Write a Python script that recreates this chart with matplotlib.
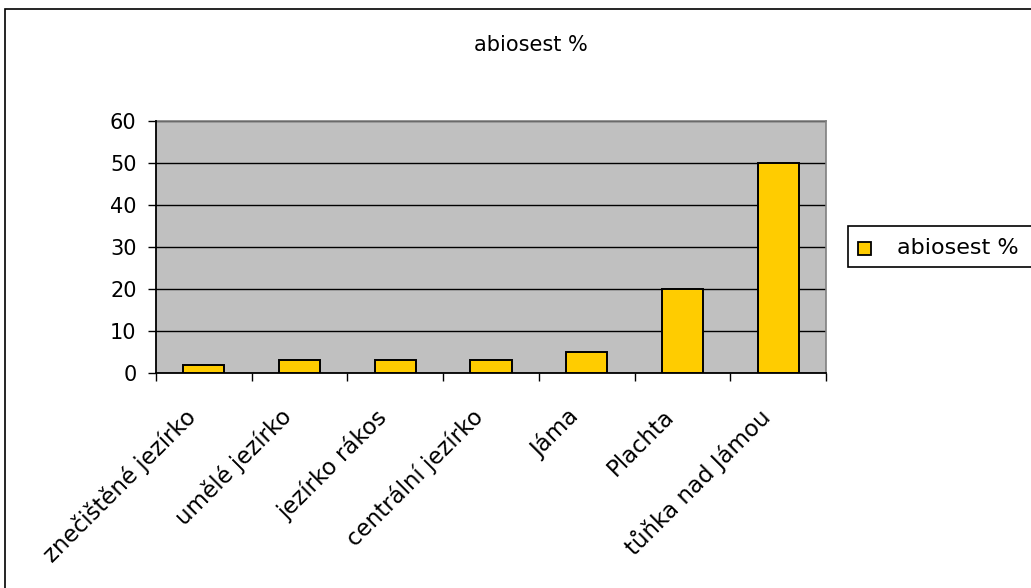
import matplotlib
matplotlib.use("Agg")
import matplotlib.pyplot as plt
from matplotlib.patches import Rectangle
from matplotlib.transforms import ScaledTranslation
import numpy as np

categories = ["znečištěné jezírko", "umělé jezírko", "jezírko rákos",
              "centrální jezírko", "Jáma", "Plachta", "tůňka nad Jámou"]
values = [2, 3, 3, 3, 5, 20, 50]
series_name = "abiosest %"
yticks = [0, 10, 20, 30, 40, 50, 60]

plt.rcParams['font.family'] = ['DejaVu Sans']

W, H = 1031, 588
fig = plt.figure(figsize=(W / 100, H / 100), dpi=100)
fig.patch.set_facecolor("white")


def px(x, y):
    """Pixel position (from top-left) to figure fraction."""
    return x / W, 1 - y / H


# outer frame of the chart (runs off the right and bottom edges)
fig.patches.append(Rectangle(px(5, 620), 1100 / W, (620 - 9) / H,
                             transform=fig.transFigure, fill=False,
                             edgecolor="black", linewidth=1.2))

left, top, right, bottom = 156, 121, 826, 373
ax = fig.add_axes([left / W, 1 - bottom / H, (right - left) / W, (bottom - top) / H])
ax.set_facecolor("#C0C0C0")

x = np.arange(len(categories))
bars_color = "#FFCC00"
ax.bar(x, values, width=0.43, color=bars_color, edgecolor="black",
       linewidth=1.4, zorder=3)

ax.set_xlim(-0.5, len(categories) - 0.5)
ax.set_ylim(0, 60)
ax.set_yticks(yticks)
ax.yaxis.grid(True, color="black", linewidth=1, zorder=1)
ax.set_axisbelow(True)

# category ticks sit between the bars
ax.set_xticks(np.arange(len(categories) + 1) - 0.5)
ax.set_xticklabels([])
ax.set_xticks(x, minor=True)
ax.set_xticklabels(categories, minor=True, rotation=45, ha="right",
                   va="top", rotation_mode="anchor", fontsize=16.5)
ax.tick_params(axis="x", which="minor", length=0, pad=23)
ax.tick_params(axis="x", which="major", length=6, width=1, direction="out")
ax.tick_params(axis="y", length=6, width=1, direction="out", labelsize=15, pad=8)
shift = ScaledTranslation(-20 / 100, 0, fig.dpi_scale_trans)
for lbl in ax.get_xticklabels(minor=True):
    lbl.set_transform(lbl.get_transform() + shift)

for side in ("top", "right"):
    ax.spines[side].set_color("#808080")
    ax.spines[side].set_linewidth(1.2)
    ax.spines[side].set_zorder(2)
for side in ("left", "bottom"):
    ax.spines[side].set_color("black")
    ax.spines[side].set_linewidth(1.3)

fig.text(*px(531, 45), series_name, ha="center", va="center", fontsize=15)

# legend: frame runs off the right edge
fig.patches.append(Rectangle(px(848, 267), 300 / W, (267 - 226) / H,
                             transform=fig.transFigure, facecolor="white",
                             edgecolor="black", linewidth=1.2))
fig.patches.append(Rectangle(px(858, 255), 13 / W, 13 / H,
                             transform=fig.transFigure, facecolor=bars_color,
                             edgecolor="black", linewidth=1.3))
fig.text(*px(897, 248), series_name, ha="left", va="center", fontsize=16)

fig.savefig("out.png", dpi=100)
